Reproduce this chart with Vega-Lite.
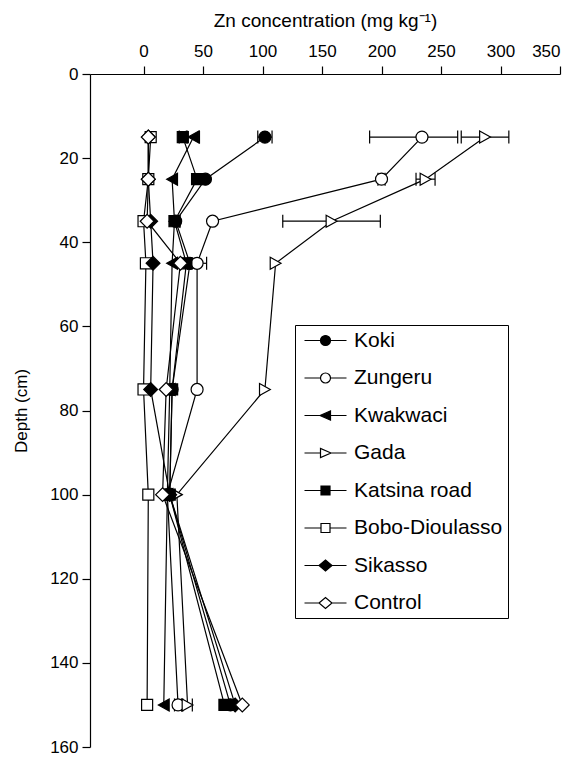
{
  "$schema": "https://vega.github.io/schema/vega-lite/v6.json",
  "width": 470,
  "height": 673,
  "autosize": {"type": "none"},
  "padding": {"left": 90, "top": 74, "right": 26, "bottom": 11},
  "config": {
    "font": "Liberation Sans",
    "view": {"stroke": null},
    "axis": {"grid": false, "domainColor": "black", "tickColor": "black", "labelColor": "black", "titleColor": "black", "labelFont": "Liberation Sans", "titleFont": "Liberation Sans", "labelFontSize": 17, "titleFontSize": 19, "titleFontWeight": "normal", "tickSize": 8, "domainWidth": 1.2, "tickWidth": 1.2},
    "legend": {"symbolStrokeColor": "black", "symbolStrokeWidth": 1.2}
  },
  "datasets": {
    "pts": [
      {"site": "Koki", "depth": 15, "zn": 102},
      {"site": "Koki", "depth": 25, "zn": 52},
      {"site": "Koki", "depth": 35, "zn": 27},
      {"site": "Koki", "depth": 45, "zn": 39},
      {"site": "Koki", "depth": 75, "zn": 24},
      {"site": "Koki", "depth": 100, "zn": 22},
      {"site": "Koki", "depth": 150, "zn": 73},
      {"site": "Zungeru", "depth": 15, "zn": 234},
      {"site": "Zungeru", "depth": 25, "zn": 200},
      {"site": "Zungeru", "depth": 35, "zn": 58},
      {"site": "Zungeru", "depth": 45, "zn": 45},
      {"site": "Zungeru", "depth": 75, "zn": 45},
      {"site": "Zungeru", "depth": 100, "zn": 20},
      {"site": "Zungeru", "depth": 150, "zn": 29},
      {"site": "Kwakwaci", "depth": 15, "zn": 42},
      {"site": "Kwakwaci", "depth": 25, "zn": 24},
      {"site": "Kwakwaci", "depth": 35, "zn": 26},
      {"site": "Kwakwaci", "depth": 45, "zn": 24},
      {"site": "Kwakwaci", "depth": 75, "zn": 22},
      {"site": "Kwakwaci", "depth": 100, "zn": 20},
      {"site": "Kwakwaci", "depth": 150, "zn": 17},
      {"site": "Gada", "depth": 15, "zn": 287},
      {"site": "Gada", "depth": 25, "zn": 237},
      {"site": "Gada", "depth": 35, "zn": 158},
      {"site": "Gada", "depth": 45, "zn": 111},
      {"site": "Gada", "depth": 75, "zn": 102},
      {"site": "Gada", "depth": 100, "zn": 28},
      {"site": "Gada", "depth": 150, "zn": 37},
      {"site": "Katsina road", "depth": 15, "zn": 33},
      {"site": "Katsina road", "depth": 25, "zn": 45},
      {"site": "Katsina road", "depth": 35, "zn": 26},
      {"site": "Katsina road", "depth": 45, "zn": 36},
      {"site": "Katsina road", "depth": 75, "zn": 24},
      {"site": "Katsina road", "depth": 100, "zn": 22},
      {"site": "Katsina road", "depth": 150, "zn": 68},
      {"site": "Bobo-Dioulasso", "depth": 15, "zn": 6},
      {"site": "Bobo-Dioulasso", "depth": 25, "zn": 4},
      {"site": "Bobo-Dioulasso", "depth": 35, "zn": 0},
      {"site": "Bobo-Dioulasso", "depth": 45, "zn": 2},
      {"site": "Bobo-Dioulasso", "depth": 75, "zn": 0},
      {"site": "Bobo-Dioulasso", "depth": 100, "zn": 4},
      {"site": "Bobo-Dioulasso", "depth": 150, "zn": 3},
      {"site": "Sikasso", "depth": 15, "zn": 4},
      {"site": "Sikasso", "depth": 25, "zn": 4},
      {"site": "Sikasso", "depth": 35, "zn": 6},
      {"site": "Sikasso", "depth": 45, "zn": 8},
      {"site": "Sikasso", "depth": 75, "zn": 6},
      {"site": "Sikasso", "depth": 100, "zn": 22},
      {"site": "Sikasso", "depth": 150, "zn": 77},
      {"site": "Control", "depth": 15, "zn": 4},
      {"site": "Control", "depth": 25, "zn": 4},
      {"site": "Control", "depth": 35, "zn": 3},
      {"site": "Control", "depth": 45, "zn": 31},
      {"site": "Control", "depth": 75, "zn": 19},
      {"site": "Control", "depth": 100, "zn": 16},
      {"site": "Control", "depth": 150, "zn": 83}
    ],
    "err": [
      {"site": "Koki", "depth": 15, "lo": 96, "hi": 108},
      {"site": "Zungeru", "depth": 15, "lo": 190, "hi": 264},
      {"site": "Kwakwaci", "depth": 15, "lo": 37, "hi": 47},
      {"site": "Gada", "depth": 15, "lo": 267, "hi": 307},
      {"site": "Katsina road", "depth": 15, "lo": 30, "hi": 36},
      {"site": "Zungeru", "depth": 25, "lo": 197, "hi": 203},
      {"site": "Gada", "depth": 25, "lo": 229, "hi": 245},
      {"site": "Gada", "depth": 35, "lo": 117, "hi": 199},
      {"site": "Zungeru", "depth": 45, "lo": 37, "hi": 53},
      {"site": "Gada", "depth": 150, "lo": 33, "hi": 41},
      {"site": "Zungeru", "depth": 150, "lo": 26, "hi": 32}
    ]
  },
  "layer": [
    {
      "data": {"name": "pts"},
      "mark": {"type": "line", "color": "black", "strokeWidth": 1.2},
      "encoding": {
        "x": {"field": "zn", "type": "quantitative", "scale": {"domain": [-45, 350], "nice": false, "zero": false}, "axis": {"orient": "top", "title": "Zn concentration (mg kg⁻¹)", "values": [0, 50, 100, 150, 200, 250, 300, 350], "labelPadding": 6, "titlePadding": 12}},
        "y": {"field": "depth", "type": "quantitative", "scale": {"domain": [0, 160], "reverse": true, "nice": false}, "axis": {"title": "Depth (cm)", "titleFontSize": 17, "values": [0, 20, 40, 60, 80, 100, 120, 140, 160], "labelPadding": 4, "titlePadding": 19}},
        "detail": {"field": "site"},
        "order": {"field": "depth", "type": "quantitative"}
      }
    },
    {
      "data": {"name": "err"},
      "mark": {"type": "rule", "color": "black", "strokeWidth": 1.2},
      "encoding": {
        "x": {"field": "lo", "type": "quantitative"},
        "x2": {"field": "hi"},
        "y": {"field": "depth", "type": "quantitative"}
      }
    },
    {
      "data": {"name": "err"},
      "mark": {"type": "point", "shape": "M0,-1L0,1", "size": 169, "stroke": "black", "strokeWidth": 1.2, "opacity": 1},
      "encoding": {
        "x": {"field": "lo", "type": "quantitative"},
        "y": {"field": "depth", "type": "quantitative"}
      }
    },
    {
      "data": {"name": "err"},
      "mark": {"type": "point", "shape": "M0,-1L0,1", "size": 169, "stroke": "black", "strokeWidth": 1.2, "opacity": 1},
      "encoding": {
        "x": {"field": "hi", "type": "quantitative"},
        "y": {"field": "depth", "type": "quantitative"}
      }
    },
    {
      "data": {"name": "pts"},
      "transform": [{"filter": {"field": "site", "oneOf": ["Koki", "Zungeru"]}}],
      "mark": {"type": "point", "shape": "M1,0A1,1 0 1,1 -1,0A1,1 0 1,1 1,0Z", "size": 144, "stroke": "black", "strokeWidth": 1.2, "opacity": 1},
      "encoding": {
        "x": {"field": "zn", "type": "quantitative"},
        "y": {"field": "depth", "type": "quantitative"},
        "fill": {"condition": {"test": "datum.site === 'Koki'", "value": "black"}, "value": "white"}
      }
    },
    {
      "data": {"name": "pts"},
      "transform": [{"filter": {"field": "site", "oneOf": ["Kwakwaci"]}}],
      "mark": {"type": "point", "shape": "M-0.9,0L0.9,-1L0.9,1Z", "size": 144, "stroke": "black", "strokeWidth": 1.2, "fill": "black", "filled": true, "opacity": 1},
      "encoding": {
        "x": {"field": "zn", "type": "quantitative"},
        "y": {"field": "depth", "type": "quantitative"}
      }
    },
    {
      "data": {"name": "pts"},
      "transform": [{"filter": {"field": "site", "oneOf": ["Gada"]}}],
      "mark": {"type": "point", "shape": "M0.9,0L-0.9,-1L-0.9,1Z", "size": 144, "stroke": "black", "strokeWidth": 1.2, "fill": "white", "filled": true, "opacity": 1},
      "encoding": {
        "x": {"field": "zn", "type": "quantitative"},
        "y": {"field": "depth", "type": "quantitative"}
      }
    },
    {
      "data": {"name": "pts"},
      "transform": [{"filter": {"field": "site", "oneOf": ["Katsina road", "Bobo-Dioulasso"]}}],
      "mark": {"type": "point", "shape": "M-0.92,-0.92H0.92V0.92H-0.92Z", "size": 144, "stroke": "black", "strokeWidth": 1.2, "opacity": 1},
      "encoding": {
        "x": {"field": "zn", "type": "quantitative"},
        "y": {"field": "depth", "type": "quantitative"},
        "fill": {"condition": {"test": "datum.site === 'Katsina road'", "value": "black"}, "value": "white"}
      }
    },
    {
      "data": {"name": "pts"},
      "transform": [{"filter": {"field": "site", "oneOf": ["Sikasso", "Control"]}}],
      "mark": {"type": "point", "shape": "M-1.15,0L0,-1.15L1.15,0L0,1.15Z", "size": 144, "stroke": "black", "strokeWidth": 1.2, "opacity": 1},
      "encoding": {
        "x": {"field": "zn", "type": "quantitative"},
        "y": {"field": "depth", "type": "quantitative"},
        "fill": {"condition": {"test": "datum.site === 'Sikasso'", "value": "black"}, "value": "white"}
      }
    },
    {
      "data": {"name": "pts"},
      "transform": [{"filter": "datum.depth < 0"}],
      "mark": {"type": "point", "filled": false, "size": 100, "strokeWidth": 1.2, "opacity": 1},
      "encoding": {
        "x": {"field": "zn", "type": "quantitative"},
        "y": {"field": "depth", "type": "quantitative"},
        "shape": {
          "field": "site", "type": "nominal",
          "scale": {
            "domain": ["Koki", "Zungeru", "Kwakwaci", "Gada", "Katsina road", "Bobo-Dioulasso", "Sikasso", "Control"],
            "range": [
              "M-4.2,0H-1M1,0H4.2M1,0A1,1 0 1,1 -1,0A1,1 0 1,1 1,0Z",
              "M-4.2,0H-1M1,0H4.2M1,0A1,1 0 1,1 -1,0A1,1 0 1,1 1,0Z",
              "M-4.2,0H-1.1M1,0H4.2M-1.1,0L1,-0.9L1,0.9Z",
              "M-4.2,0H-1M1.1,0H4.2M1.1,0L-1,-0.9L-1,0.9Z",
              "M-4.2,0H-0.9M0.9,0H4.2M-0.9,-0.9H0.9V0.9H-0.9Z",
              "M-4.2,0H-0.9M0.9,0H4.2M-0.9,-0.9H0.9V0.9H-0.9Z",
              "M-4.2,0H-1.3M1.3,0H4.2M-1.3,0L0,-1.1L1.3,0L0,1.1Z",
              "M-4.2,0H-1.3M1.3,0H4.2M-1.3,0L0,-1.1L1.3,0L0,1.1Z"
            ]
          },
          "legend": {
            "title": null, "orient": "none", "legendX": 205, "legendY": 251, "direction": "vertical",
            "strokeColor": "black", "fillColor": "white", "padding": 5,
            "symbolSize": 100, "symbolStrokeColor": "black", "symbolStrokeWidth": 1.2, "symbolOpacity": 1,
            "symbolOffset": 15, "labelOffset": 18, "rowPadding": 15.5,
            "labelFont": "Liberation Sans", "labelFontSize": 21, "labelColor": "black", "labelLimit": 300
          }
        },
        "fill": {
          "field": "site", "type": "nominal",
          "scale": {
            "domain": ["Koki", "Zungeru", "Kwakwaci", "Gada", "Katsina road", "Bobo-Dioulasso", "Sikasso", "Control"],
            "range": ["black", "white", "black", "white", "black", "white", "black", "white"]
          },
          "legend": {
            "title": null, "orient": "none", "legendX": 205, "legendY": 251, "direction": "vertical",
            "strokeColor": "black", "fillColor": "white", "padding": 5,
            "symbolSize": 100, "symbolStrokeColor": "black", "symbolStrokeWidth": 1.2, "symbolOpacity": 1,
            "symbolOffset": 15, "labelOffset": 18, "rowPadding": 15.5,
            "labelFont": "Liberation Sans", "labelFontSize": 21, "labelColor": "black", "labelLimit": 300
          }
        },
        "stroke": {
          "field": "site", "type": "nominal",
          "scale": {
            "domain": ["Koki", "Zungeru", "Kwakwaci", "Gada", "Katsina road", "Bobo-Dioulasso", "Sikasso", "Control"],
            "range": ["black", "black", "black", "black", "black", "black", "black", "black"]
          },
          "legend": {
            "title": null, "orient": "none", "legendX": 205, "legendY": 251, "direction": "vertical",
            "strokeColor": "black", "fillColor": "white", "padding": 5,
            "symbolSize": 100, "symbolStrokeColor": "black", "symbolStrokeWidth": 1.2, "symbolOpacity": 1,
            "symbolOffset": 15, "labelOffset": 18, "rowPadding": 15.5,
            "labelFont": "Liberation Sans", "labelFontSize": 21, "labelColor": "black", "labelLimit": 300
          }
        }
      }
    }
  ]
}
